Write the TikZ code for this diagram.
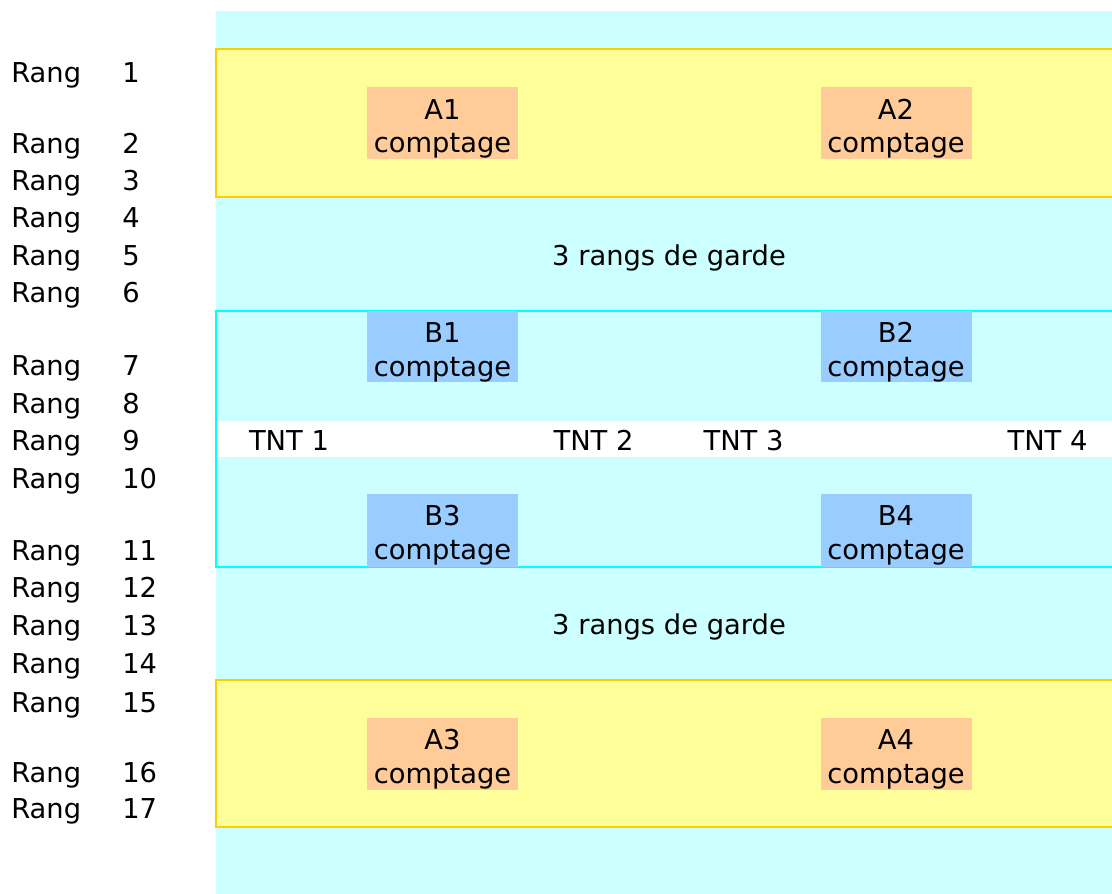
\documentclass[tikz,border=0pt]{standalone}
\usepackage{fontspec}
\setmainfont{DejaVu Sans}
\definecolor{bgcyan}{HTML}{CCFFFF}
\definecolor{bandyellow}{HTML}{FFFF99}
\definecolor{bandgold}{HTML}{FFCC00}
\definecolor{framecyan}{HTML}{00FFFF}
\definecolor{boxorange}{HTML}{FFCC99}
\definecolor{boxblue}{HTML}{99CCFF}
\begin{document}
\begin{tikzpicture}[x=0.75pt,y=-0.75pt,
  txt/.style={anchor=base,inner sep=0pt,font=\fontsize{20.5}{24}\selectfont},
  rowlbl/.style={anchor=base west,inner sep=0pt,font=\fontsize{20.5}{24}\selectfont},
  abox/.style={fill=boxorange,draw=none,inner sep=0pt,minimum width=113.25pt,minimum height=54pt},
  bbox/.style={fill=boxblue,draw=none,inner sep=0pt,minimum width=113.25pt,minimum height=53.5pt},
  bbox3/.style={fill=boxblue,draw=none,inner sep=0pt,minimum width=113.25pt,minimum height=54.75pt},
  band/.style={fill=bandyellow,draw=bandgold,line width=1.4pt},
]
\useasboundingbox (0,0) rectangle (1112,893);
\clip (0,0) rectangle (1112,893);
% background
\fill[bgcyan] (216,11) rectangle (1120,900);
% yellow bands
\draw[band] (216,49) rectangle (1120,197);
\draw[band] (216,680) rectangle (1120,827);
% white strip
\fill[white] (216,421) rectangle (1120,457);
% cyan frame
\draw[framecyan,line width=1.1pt] (1120,311) -- (216,311) -- (216,567) -- (1120,567);
% boxes
\node[abox] (A1) at (442.5,123) {};
\node[abox] (A2) at (896,123) {};
\node[bbox] (B1) at (442.5,346.5) {};
\node[bbox] (B2) at (896,346.5) {};
\node[bbox3] (B3) at (442.5,530.5) {};
\node[bbox3] (B4) at (896,530.5) {};
\node[abox] (A3) at (442.5,753.5) {};
\node[abox] (A4) at (896,753.5) {};
% box texts
\node[txt] (A1a) at (442.5,119) {A1};
\node[txt] (A1b) at (442.5,152) {comptage};
\node[txt] (A2a) at (896,119) {A2};
\node[txt] (A2b) at (896,152) {comptage};
\node[txt] (B1a) at (442.5,342) {B1};
\node[txt] (B1b) at (442.5,376) {comptage};
\node[txt] (B2a) at (896,342) {B2};
\node[txt] (B2b) at (896,376) {comptage};
\node[txt] (B3a) at (442.5,525) {B3};
\node[txt] (B3b) at (442.5,559) {comptage};
\node[txt] (B4a) at (896,525) {B4};
\node[txt] (B4b) at (896,559) {comptage};
\node[txt] (A3a) at (442.5,749) {A3};
\node[txt] (A3b) at (442.5,783) {comptage};
\node[txt] (A4a) at (896,749) {A4};
\node[txt] (A4b) at (896,783) {comptage};
% garde
\node[txt] (G1) at (669,265) {3 rangs de garde};
\node[txt] (G2) at (669,634) {3 rangs de garde};
% TNT
\node[txt] (T1) at (289,450) {TNT 1};
\node[txt] (T2) at (593.5,450) {TNT 2};
\node[txt] (T3) at (743.5,450) {TNT 3};
\node[txt] (T4) at (1047.5,450) {TNT 4};
% row labels
\foreach \n/\y in {1/82,2/153,3/190,4/227.5,5/265,6/302.5,7/375,8/413,9/450,10/488,11/560,12/597,13/635,14/673,15/712,16/782,17/818}{
  \node[rowlbl] (R\n) at (11,\y) {Rang};
  \node[rowlbl] (N\n) at (122,\y) {\n};
}
\end{tikzpicture}
\end{document}
